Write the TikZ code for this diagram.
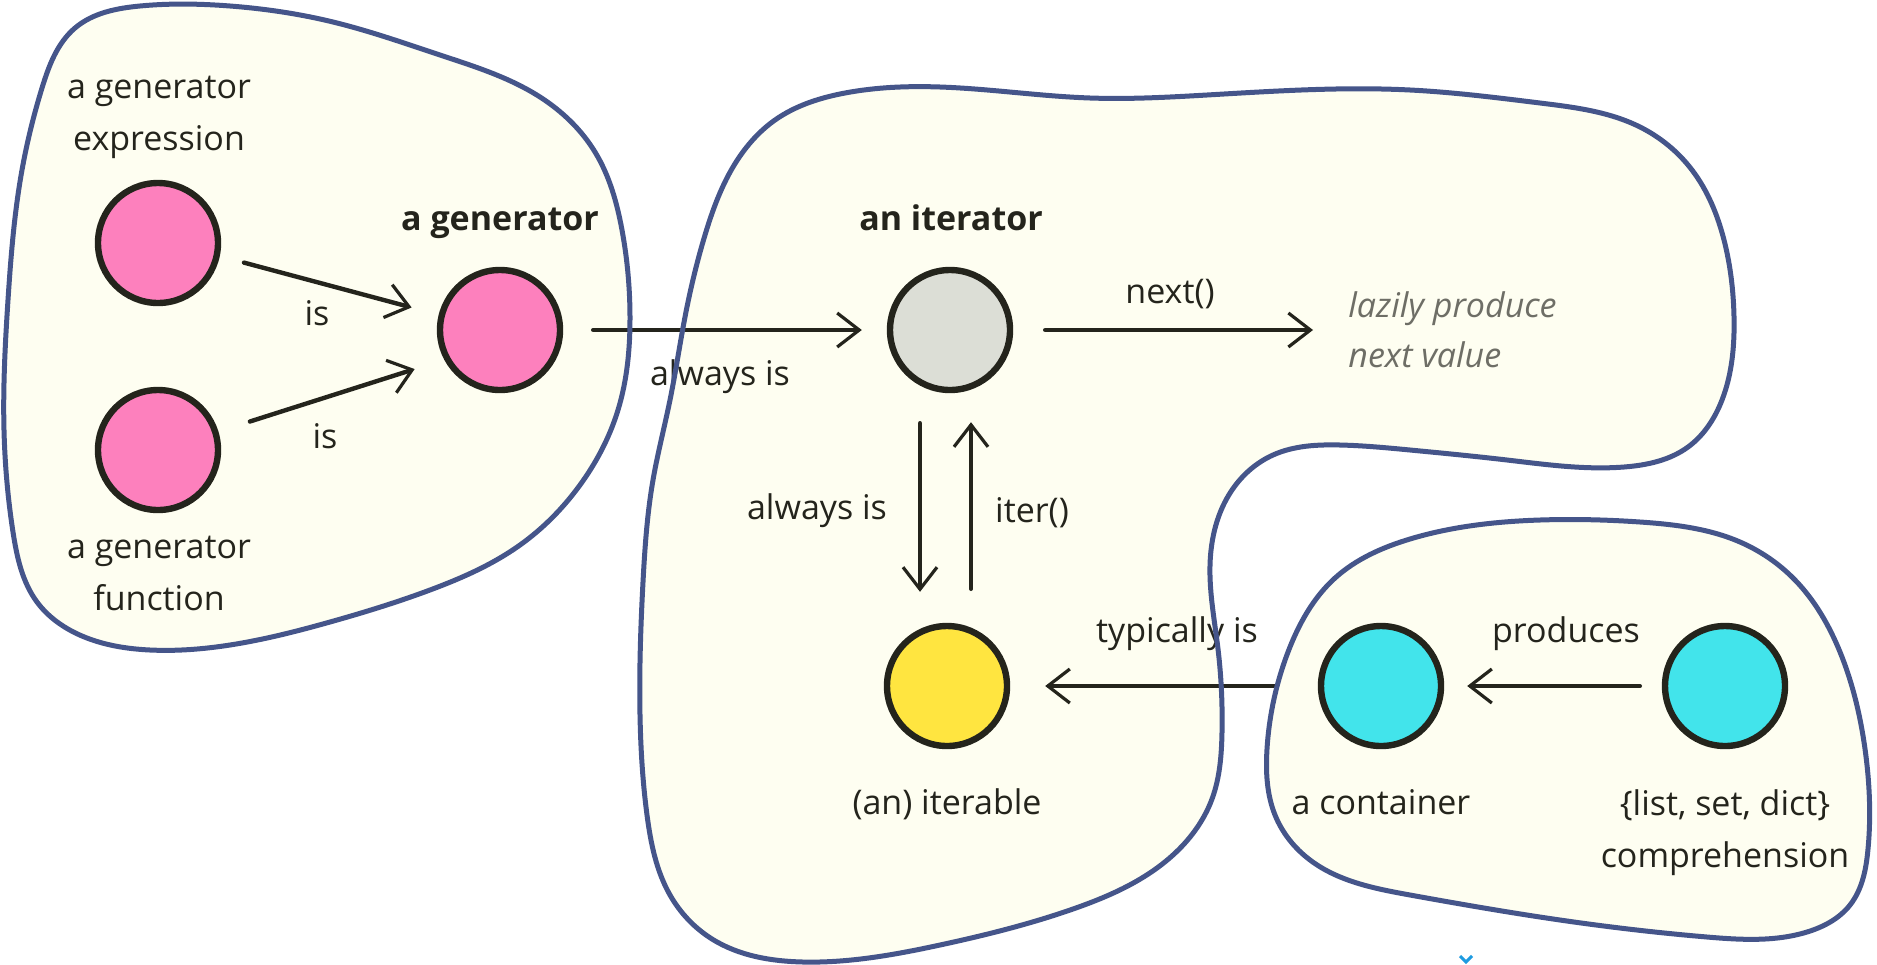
\documentclass[tikz,border=0pt]{standalone}
\usepackage{fontspec}
\setmainfont{Open Sans}
\usetikzlibrary{arrows.meta,hobby}

\definecolor{ink}{HTML}{24241C}
\definecolor{soft}{HTML}{6E6E66}
\definecolor{blobline}{HTML}{45558A}
\definecolor{blobfill}{HTML}{FEFEF1}
\definecolor{genpink}{HTML}{FD80BD}
\definecolor{itergray}{HTML}{DCDED6}
\definecolor{iteryellow}{HTML}{FFE540}
\definecolor{contcyan}{HTML}{42E4EB}
\definecolor{markblue}{HTML}{1E9BE0}

\begin{document}
\begin{tikzpicture}[x=0.5pt,y=-0.5pt,
  every node/.style={font=\fontsize{17}{26}\selectfont, text=ink, inner sep=0pt},
  dot/.style={circle, draw=ink, line width=3.2pt, minimum size=60pt, inner sep=0pt},
  lbl/.style={anchor=base, align=center},
  head/.style={anchor=base, font=\fontsize{17}{26}\selectfont\bfseries},
  arr/.style={draw=ink, line width=2.2pt, line cap=round,
    -{Straight Barb[length=11pt,width=17pt,line width=1.6pt]}},
  region/.style={fill=blobfill},
  rim/.style={draw=blobline, line width=2.5pt},
]
% canvas
\fill[white] (0,0) rectangle (1877,964);
\useasboundingbox (0,0) rectangle (1877,964);

% the three regions
\path[save path=\regionGen] plot[closed hobby] coordinates {
  (75,28) (140,6) (230,6) (333,22) (440,55) (540,97) (595,152) (622,230)
  (630,317) (618,410) (580,485) (520,545) (430,590) (330,622) (230,645)
  (150,650) (82,636) (37,602) (13,532) (4,430) (8,300) (22,170) (42,88)};
\path[save path=\regionIter] plot[closed hobby] coordinates {
  (940,87) (1090,98) (1207,95) (1410,90) (1540,103) (1640,127) (1692,170)
  (1724,240) (1734,317) (1722,400) (1688,447) (1624,467) (1507,460)
  (1410,450) (1340,445) (1273,455) (1232,490) (1210,565) (1218,649)
  (1222,732) (1212,799) (1173,855) (1073,909) (940,945) (803,962)
  (712,939) (670,895) (647,815) (640,715) (643,582) (653,480) (670,400)
  (685,317) (705,235) (733,167) (775,120) (845,93)};
\path[save path=\regionCont] plot[closed hobby] coordinates {
  (1410,539) (1540,520) (1640,522) (1740,542) (1795,580) (1840,652)
  (1865,749) (1868,849) (1850,905) (1807,932) (1707,937) (1574,922)
  (1410,895) (1310,860) (1275,815) (1267,749) (1288,652) (1335,578)};

\path[use path=\regionGen, region];
\path[use path=\regionIter, region];
\path[use path=\regionCont, region];

% concepts
\node[dot, fill=genpink]    (gexp) at (158,243) {};
\node[dot, fill=genpink]    (gfun) at (158,450) {};
\node[dot, fill=genpink]    (gen)  at (500,330) {};
\node[dot, fill=itergray]   (iter) at (950,330) {};
\node[dot, fill=iteryellow] (itb)  at (947,686) {};
\node[dot, fill=contcyan]   (cont) at (1381,686) {};
\node[dot, fill=contcyan]   (comp) at (1725,686) {};

% names of the concepts (two-line names sit on their last line)
\node[lbl] (tgexp) at (159,150) {a generator\\expression};
\node[lbl] (tgfun) at (159,610) {a generator\\function};
\node[head] (tgen) at (500,230) {a generator};
\node[head] (titer) at (951,230) {an iterator};
\node[lbl] (titb) at (947,814) {(an) iterable};
\node[lbl] (tcont) at (1381,814) {a container};
\node[lbl] (tcomp) at (1725,867) {\{list, set, dict\}\\comprehension};
\node[anchor=base west, align=left, text=soft, font=\fontsize{17}{25}\selectfont\itshape]
  (lazy) at (1348,367) {lazily produce\\next value};

% relations
\draw[arr, shorten <=12.5pt, shorten >=14pt] (gexp.-12) -- (gen.166);
\draw[arr, shorten <=16.5pt, shorten >=15.5pt] (gfun.17) -- (gen.208);
\draw[arr, shorten <=15pt, shorten >=12.5pt] (gen) -- (iter);
\draw[arr, shorten <=16pt, shorten >=17.5pt] (iter) -- (iter -| lazy.west);
\draw[arr, shorten <=15pt, shorten >=15.5pt]
  ([xshift=-15pt]iter.south) -- ([xshift=-15pt]iter.south |- itb.north);
\draw[arr, shorten <=17pt, shorten >=14.5pt]
  ([xshift=12pt]itb.north) -- ([xshift=12pt]itb.north |- iter.south);
\draw[arr, shorten <=21.5pt, shorten >=17.5pt] (cont) -- (itb);
\draw[arr, shorten <=11pt, shorten >=11.5pt] (comp) -- (cont);

% relation names
\node[lbl] (lis1) at (317,325) {is};
\node[lbl] (lis2) at (325,448) {is};
\node[lbl] (lalw1) at (720,385) {always is};
\node[lbl] (lnext) at (1170,303) {next()};
\node[lbl] (lalw2) at (817,519) {always is};
\node[lbl] (liter) at (1032,522) {iter()};
\node[lbl] (ltyp) at (1177,642) {typically is};
\node[lbl] (lprod) at (1566,642) {produces};

% region outlines on top
\path[use path=\regionGen, rim];
\path[use path=\regionIter, rim];
\path[use path=\regionCont, rim];

% small stray mark at the lower edge
\draw[markblue, line width=1.5pt] (1460,956) -- (1466,962) -- (1472,956);
\end{tikzpicture}
\end{document}
